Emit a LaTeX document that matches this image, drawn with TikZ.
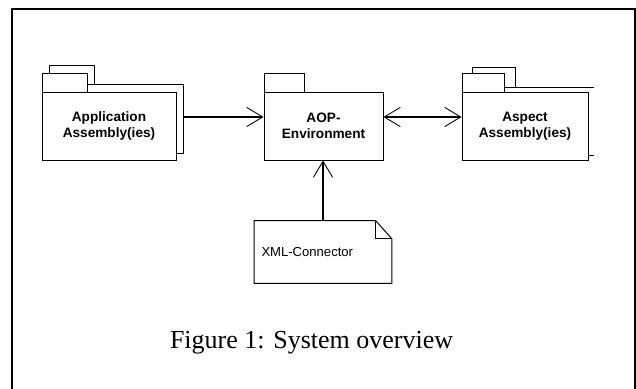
\documentclass[tikz,border=0pt]{standalone}
\usepackage{fontspec}
\setmainfont{Liberation Serif}
\newfontfamily\umlfont{Liberation Sans}
\usetikzlibrary{arrows.meta}

\begin{document}
\begin{tikzpicture}[
    barb/.tip={Straight Barb[length=0.4cm,width=0.48cm,line width=0.6pt]},
    pkg/.style={draw,fill=white,line width=0.7pt,inner sep=0pt,align=center,
                font=\umlfont\bfseries\fontsize{9.7}{11.4}\selectfont},
    tab/.style={draw,fill=white,line width=0.7pt},
    link/.style={-barb,line width=1.4pt},
    biglink/.style={barb-barb,line width=1.4pt}]
    \useasboundingbox (0,0) rectangle (15.9,-9.725);

    % frame
    \draw [line width=1.1pt] (0.3,-9.725) -- (0.3,-0.225) -- (15.875,-0.225) -- (15.875,-9.725);

    % Application Assembly(ies)
    \draw [tab] (1.225,-1.625) rectangle (2.35,-2.1);
    \node [pkg,minimum width=3.35cm,minimum height=1.725cm] (appback) at (2.9,-2.9625) {};
    \draw [tab] (1.05,-1.825) rectangle (2.175,-2.3);
    \node [pkg,minimum width=3.35cm,minimum height=1.7cm] (app) at (2.725,-3.15) {Application\\Assembly(ies)};

    % AOP-Environment
    \draw [tab] (6.6,-1.825) rectangle (7.6,-2.3);
    \node [pkg,minimum width=2.975cm,minimum height=1.7cm] (aop) at (8.0875,-3.15) {AOP-\\Environment};
    \coordinate (aopin) at ([yshift=0.225cm]aop.west);
    \coordinate (aopout) at ([yshift=0.225cm]aop.east);

    % Aspect Assembly(ies)
    \draw [tab] (11.8,-1.675) rectangle (12.875,-2.175);
    \draw [line width=0.7pt] (14.85,-2.175) -- (11.8,-2.175) -- (11.8,-3.875) -- (14.85,-3.875);
    \draw [tab] (11.55,-1.825) rectangle (12.6,-2.3);
    \node [pkg,minimum width=3.15cm,minimum height=1.7cm] (aspect) at (13.125,-3.15) {Aspect\\Assembly(ies)};

    % XML-Connector
    \node [inner xsep=0.175cm,inner ysep=0pt,text width=3.075cm,minimum height=1.55cm,align=left,
           font=\umlfont\fontsize{9.3}{11}\selectfont] (xml) at (8.075,-6.3) {XML-Connector};
    \draw [line width=0.7pt] (xml.north west) -- ([xshift=-0.4cm]xml.north east) -- ([yshift=-0.45cm]xml.north east)
        -- (xml.south east) -- (xml.south west) -- cycle;
    \draw [line width=0.7pt] ([xshift=-0.4cm]xml.north east) -- ([xshift=-0.4cm,yshift=-0.45cm]xml.north east)
        -- ([yshift=-0.45cm]xml.north east);

    % connectors
    \draw [link] (appback.east |- aopin) -- (aopin);
    \draw [biglink] (aopout) -- (aopout -| aspect.west);
    \draw [link] (xml.north) -- (xml.north |- aop.south);

    \node [anchor=base,font=\fontsize{18.5}{20}\selectfont] (caption) at (7.79,-8.71) {Figure 1: System overview};
\end{tikzpicture}
\end{document}
